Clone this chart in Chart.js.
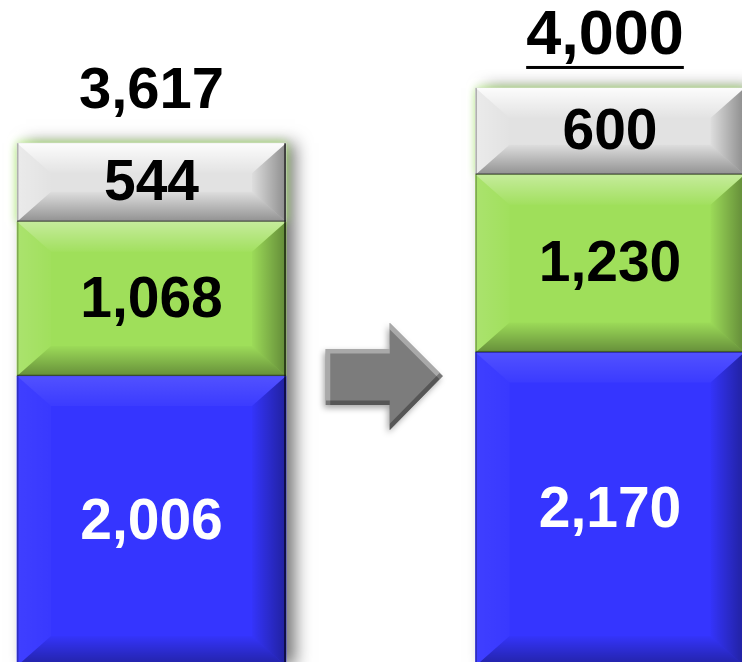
<!DOCTYPE html>
<html>
<head>
<meta charset="utf-8">
<script src="https://cdn.jsdelivr.net/npm/chart.js@4/dist/chart.umd.min.js"></script>
<style>
  html, body { margin: 0; padding: 0; background: #ffffff; }
  #wrap { position: relative; width: 742px; height: 662px; }
</style>
</head>
<body>
<div id="wrap"><canvas id="chart"></canvas></div>
<script>
let categories = ["Before", "After"];
let blueValues = [2006, 2170];
let greenValues = [1068, 1230];
let grayValues = [544, 600];
let totalValues = [3617, 4000];

function fmt(v) {
    return v.toLocaleString("en-US");
}

function polygon(ctx, pts, fill) {
    ctx.beginPath();
    ctx.moveTo(pts[0][0], pts[0][1]);
    for (let i = 1; i < pts.length; i++) {
        ctx.lineTo(pts[i][0], pts[i][1]);
    }
    ctx.closePath();
    ctx.fillStyle = fill;
    ctx.fill();
}

function barRect(bar) {
    let p = bar.getProps(["x", "y", "base", "width"], true);
    return {l: p.x - p.width / 2, r: p.x + p.width / 2, t: Math.min(p.y, p.base), b: Math.max(p.y, p.base), x: p.x};
}

// beveled "button" look on every segment
function drawBevel(ctx, rc, topLight, sideLight) {
    let l = rc.l, r = rc.r, t = rc.t, b = rc.b;
    let dx = Math.min(34, (r - l) / 2);
    let dy = Math.min(30, (b - t) / 2);
    let g;

    g = ctx.createLinearGradient(0, t, 0, t + dy);
    g.addColorStop(0, "rgba(255,255,255," + topLight + ")");
    g.addColorStop(1, "rgba(255,255,255,0.03)");
    polygon(ctx, [[l, t], [r, t], [r - dx, t + dy], [l + dx, t + dy]], g);

    g = ctx.createLinearGradient(l, 0, l + dx, 0);
    g.addColorStop(0, "rgba(255,255,255," + sideLight + ")");
    g.addColorStop(1, "rgba(255,255,255,0.02)");
    polygon(ctx, [[l, t], [l + dx, t + dy], [l + dx, b - dy], [l, b]], g);

    g = ctx.createLinearGradient(r - dx, 0, r, 0);
    g.addColorStop(0, "rgba(0,0,0,0.02)");
    g.addColorStop(1, "rgba(0,0,0,0.38)");
    polygon(ctx, [[r, t], [r, b], [r - dx, b - dy], [r - dx, t + dy]], g);

    g = ctx.createLinearGradient(0, b - dy, 0, b);
    g.addColorStop(0, "rgba(0,0,0,0.02)");
    g.addColorStop(1, "rgba(0,0,0,0.36)");
    polygon(ctx, [[l, b], [r, b], [r - dx, b - dy], [l + dx, b - dy]], g);

    ctx.fillStyle = "rgba(0,0,0,0.55)";
    ctx.fillRect(r - 2, t, 2, b - t);
    ctx.fillStyle = "rgba(0,0,0,0.35)";
    ctx.fillRect(l, b - 1.5, r - l, 1.5);
    ctx.fillStyle = "rgba(0,0,0,0.25)";
    ctx.fillRect(l, t, 1.5, b - t);
}

function drawArrow(ctx, cx, cy) {
    let pts = [
        [cx - 58, cy - 27], [cx + 6, cy - 27], [cx + 6, cy - 53], [cx + 59, cy],
        [cx + 6, cy + 54], [cx + 6, cy + 29], [cx - 58, cy + 29]
    ];
    ctx.save();
    ctx.shadowColor = "rgba(0,0,0,0.35)";
    ctx.shadowBlur = 6;
    ctx.shadowOffsetX = -2;
    ctx.shadowOffsetY = 3;
    polygon(ctx, pts, "#7c7c7c");
    ctx.restore();

    ctx.save();
    polygon(ctx, pts, "#7c7c7c");
    ctx.clip();
    ctx.lineWidth = 9;
    ctx.strokeStyle = "rgba(255,255,255,0.35)";
    ctx.beginPath();
    ctx.moveTo(cx - 58, cy + 29);
    ctx.lineTo(cx - 58, cy - 27);
    ctx.lineTo(cx + 6, cy - 27);
    ctx.moveTo(cx + 6, cy - 53);
    ctx.lineTo(cx + 59, cy);
    ctx.stroke();
    ctx.strokeStyle = "rgba(0,0,0,0.3)";
    ctx.beginPath();
    ctx.moveTo(cx + 59, cy);
    ctx.lineTo(cx + 6, cy + 54);
    ctx.moveTo(cx + 6, cy + 29);
    ctx.lineTo(cx - 58, cy + 29);
    ctx.stroke();
    ctx.restore();
}

let bevelPlugin = {
    id: "bevelBars",
    beforeDatasetsDraw(chart) {
        let ctx = chart.ctx;
        let metas = chart.getSortedVisibleDatasetMetas();
        let first = metas[0];
        let last = metas[metas.length - 1];
        last.data.forEach(function (bar, i) {
            let top = barRect(bar);
            let bot = barRect(first.data[i]);
            ctx.save();
            ctx.shadowColor = "rgba(0,0,0,0.55)";
            ctx.shadowBlur = 16;
            ctx.shadowOffsetX = 9;
            ctx.fillStyle = "#888888";
            ctx.fillRect(top.l, top.t, top.r - top.l, bot.b - top.t);
            ctx.restore();
            // soft green glow round the top segment
            ctx.save();
            ctx.shadowColor = "rgba(175,245,110,1)";
            ctx.shadowBlur = 9;
            ctx.fillStyle = "#e2e2e2";
            ctx.fillRect(top.l, top.t, top.r - top.l, top.b - top.t);
            ctx.restore();
        });
    },
    afterDatasetsDraw(chart, args, opts) {
        let ctx = chart.ctx;
        let metas = chart.getSortedVisibleDatasetMetas();
        metas.forEach(function (meta) {
            let ds = chart.data.datasets[meta.index];
            meta.data.forEach(function (bar, i) {
                let rc = barRect(bar);
                ctx.save();
                drawBevel(ctx, rc, ds.topLight, ds.sideLight);
                ctx.font = "bold 57px 'Liberation Sans', Arial, sans-serif";
                ctx.textAlign = "center";
                ctx.textBaseline = "middle";
                ctx.fillStyle = ds.labelColor;
                ctx.fillText(fmt(ds.data[i]), rc.x, (rc.t + rc.b) / 2 + 2);
                ctx.restore();
            });
        });

        // totals above each stack
        let last = metas[metas.length - 1];
        last.data.forEach(function (bar, i) {
            let rc = barRect(bar);
            let st = opts.totals[i];
            let text = fmt(totalValues[i]);
            let ty = rc.t - 51;
            let tx = rc.x + st.shift;
            ctx.save();
            ctx.font = "bold " + st.size + "px 'Liberation Sans', Arial, sans-serif";
            ctx.textAlign = "center";
            ctx.textBaseline = "middle";
            ctx.fillStyle = "#000000";
            ctx.fillText(text, tx, ty);
            if (st.underline) {
                let w = ctx.measureText(text).width;
                ctx.fillRect(tx - w / 2, ty + 29, w, 3);
            }
            ctx.restore();
        });

        // arrow between the two stacks, level with the top of the first blue block
        let a = barRect(metas[0].data[0]);
        let b = barRect(metas[0].data[1]);
        drawArrow(ctx, (a.x + b.x) / 2 + 3, a.t);
    }
};

new Chart(document.getElementById("chart"), {
    type: "bar",
    data: {
        labels: categories,
        datasets: [
            {label: "blue", data: blueValues, backgroundColor: "#3535ff", labelColor: "#ffffff", topLight: 0.14, sideLight: 0.05},
            {label: "green", data: greenValues, backgroundColor: "#9fdf5a", labelColor: "#000000", topLight: 0.4, sideLight: 0.12},
            {label: "gray", data: grayValues, backgroundColor: "#e2e2e2", labelColor: "#000000", topLight: 0.9, sideLight: 0.3}
        ]
    },
    options: {
        responsive: true,
        maintainAspectRatio: false,
        animation: false,
        layout: {padding: {left: 151.5, right: 132, top: 0, bottom: 0}},
        datasets: {bar: {barThickness: 269, clip: false, borderWidth: 0}},
        scales: {
            x: {stacked: true, offset: false, display: false},
            y: {stacked: true, min: 27.7, max: 4608.7, display: false}
        },
        plugins: {
            legend: {display: false},
            tooltip: {enabled: false},
            bevelBars: {totals: [{size: 58, underline: false, shift: 0}, {size: 63, underline: true, shift: -5}]}
        }
    },
    plugins: [bevelPlugin]
});
</script>
</body>
</html>
